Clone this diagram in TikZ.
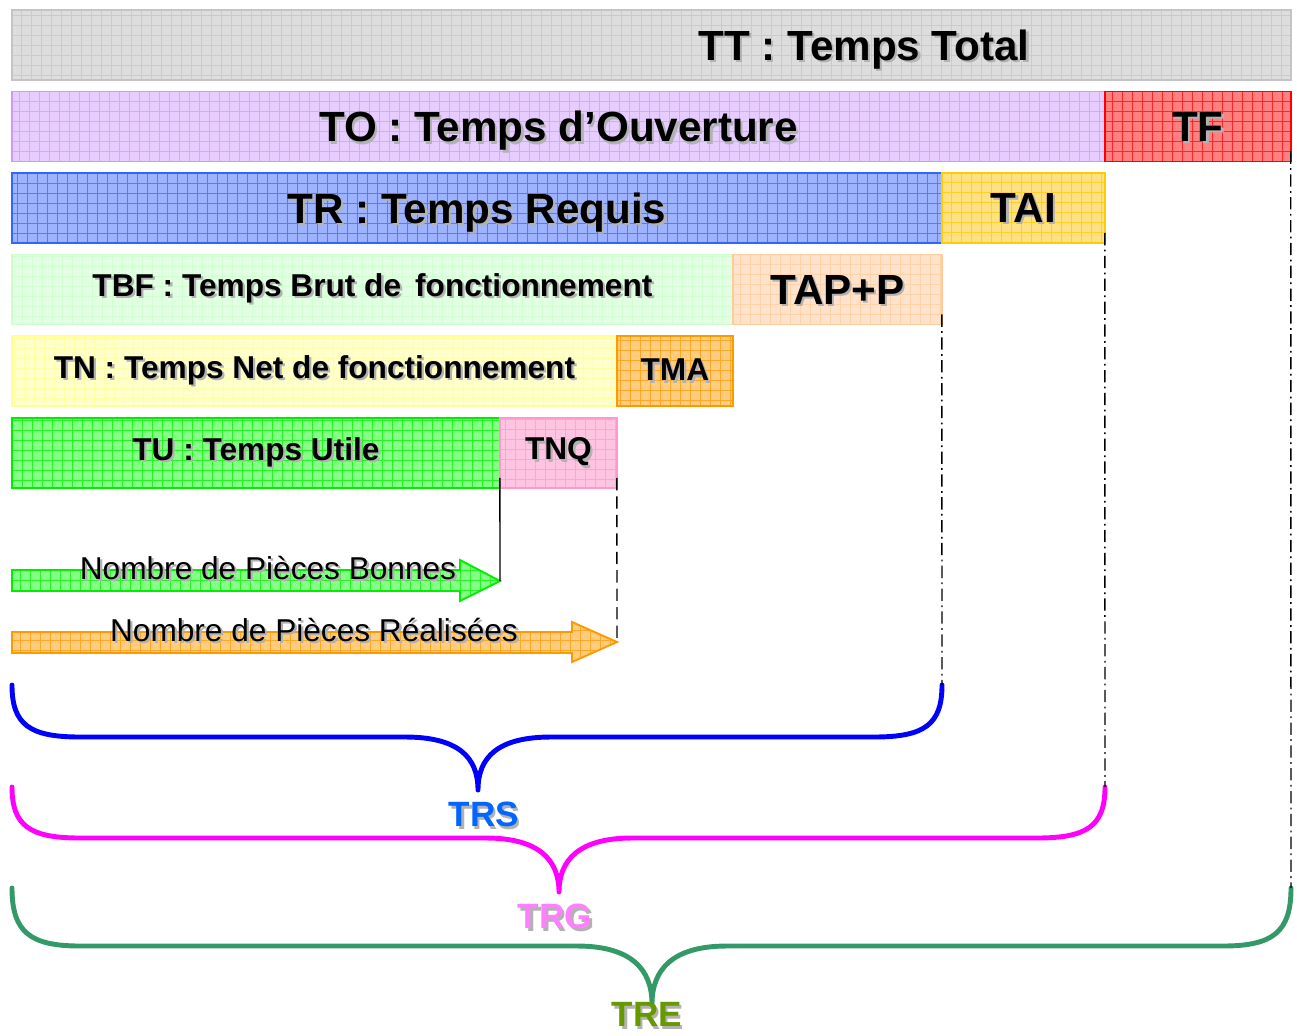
\documentclass[tikz,border=0pt]{standalone}
\usepackage{fontspec}
\setmainfont{Liberation Sans}
\usepackage{xcolor}
\usepackage{tikz}
\usetikzlibrary{positioning}

% couleurs des barres (remplissage / trait)
\definecolor{grisF}{HTML}{DDDDDD}
\definecolor{grisB}{HTML}{C4C4C4}
\definecolor{violetF}{HTML}{E6CCFF}
\definecolor{violetB}{HTML}{CC99FF}
\definecolor{rougeF}{HTML}{FF8080}
\definecolor{rougeB}{HTML}{FF0000}
\definecolor{bleuF}{HTML}{9DB3FF}
\definecolor{bleuB}{HTML}{3366FF}
\definecolor{jauneF}{HTML}{FFE083}
\definecolor{jauneB}{HTML}{FFCC00}
\definecolor{vertclF}{HTML}{E3FFE3}
\definecolor{vertclB}{HTML}{CCFFCC}
\definecolor{saumonF}{HTML}{FFE2CC}
\definecolor{saumonB}{HTML}{FFCC99}
\definecolor{jaunclF}{HTML}{FFFFCC}
\definecolor{jaunclB}{HTML}{FFFF99}
\definecolor{orangeF}{HTML}{FFCC80}
\definecolor{orangeB}{HTML}{FF9900}
\definecolor{vertF}{HTML}{85FF85}
\definecolor{vertB}{HTML}{00EE00}
\definecolor{roseF}{HTML}{FFC4E1}
\definecolor{roseB}{HTML}{FF99CC}
\definecolor{accBleu}{HTML}{0000FF}
\definecolor{accMag}{HTML}{FF00FF}
\definecolor{accVert}{HTML}{339966}
\definecolor{txtTRS}{HTML}{0066FF}
\definecolor{txtTRG}{HTML}{FF80FF}
\definecolor{txtTRE}{HTML}{669900}

% texte avec ombre
\newcommand{\ombre}[1]{\rlap{\textcolor{gray!60}{\kern1.3pt\raisebox{-1.3pt}{#1}}}#1}

\tikzset{
    motif/.style 2 args={fill=#1, draw=#2, line width=1.1pt,
        path picture={\draw[#2, line width=0.35pt, opacity=0.7, step=0.2cm]
            (path picture bounding box.south west) grid (path picture bounding box.north east);}},
    barre/.style 2 args={motif={#1}{#2}, inner sep=0pt, outer sep=0pt, minimum height=1.4cm},
    gros/.style={font=\fontsize{24}{28}\selectfont\bfseries, text depth=0pt},
    moyen/.style={font=\fontsize{18}{21}\selectfont\bfseries},
    texte/.style={font=\fontsize{18}{21}\selectfont},
    repere/.style={line width=0.8pt, draw=black},
    tiretpt/.style={repere, dash pattern=on 7pt off 2.5pt on 1pt off 2.5pt},
    accolade/.style={line width=2.8pt, line cap=round, line join=round},
    total/.style={font=\fontsize{20}{24}\selectfont\bfseries}
}

\begin{document}
\begin{tikzpicture}[x=0.02cm, y=-0.02cm]
    \useasboundingbox (0,0) rectangle (1297,1035);

    % Les barres de temps
    \node[barre={grisF}{grisB}, minimum width=25.58cm, anchor=north west] (tt) at (12,10) {};
    \node[gros] (tttxt) at (864,45) {\ombre{TT : Temps Total}};

    \node[barre={violetF}{violetB}, minimum width=21.86cm, anchor=north west, gros] (to) at (12,91.5) {\ombre{TO : Temps d’Ouverture}};
    \node[barre={rougeF}{rougeB}, minimum width=3.72cm, right=0pt of to, gros] (tf) {\ombre{TF}};

    \node[barre={bleuF}{bleuB}, minimum width=18.6cm, anchor=north west, gros] (tr) at (12,173) {\ombre{TR : Temps Requis}};
    \node[barre={jauneF}{jauneB}, minimum width=3.26cm, right=0pt of tr, gros] (tai) {\ombre{TAI}};

    \node[barre={vertclF}{vertclB}, minimum width=14.42cm, anchor=north west, moyen] (tbf) at (12,254.5) {\ombre{TBF : Temps Brut de\, fonctionnement}};
    \node[barre={saumonF}{saumonB}, minimum width=4.18cm, right=0pt of tbf, gros] (tap) {\ombre{TAP+P}};

    \node[barre={jaunclF}{jaunclB}, minimum width=12.1cm, anchor=north west, moyen] (tn) at (12,336) {\ombre{TN : Temps Net de fonctionnement}};
    \node[barre={orangeF}{orangeB}, minimum width=2.32cm, right=0pt of tn, moyen] (tma) {\ombre{TMA}};

    \node[barre={vertF}{vertB}, minimum width=9.76cm, anchor=north west, moyen] (tu) at (12,418) {\ombre{TU : Temps Utile}};
    \node[barre={roseF}{roseB}, minimum width=2.34cm, right=0pt of tu, moyen] (tnq) {\ombre{TNQ}};

    % Les flèches de pièces
    \draw[motif={vertF}{vertB}] (12,570) -- (460,570) -- (460,560) -- (500,581) coordinate (pb)
        -- (460,601) -- (460,591) -- (12,591) -- cycle;
    \draw[motif={orangeF}{orangeB}] (12,632) -- (572,632) -- (572,622) -- (617,642) coordinate (pr)
        -- (572,662) -- (572,653) -- (12,653) -- cycle;
    \node[texte] (nbb) at (268,569) {\ombre{Nombre de Pièces Bonnes}};
    \node[texte] (nbr) at (314,631) {\ombre{Nombre de Pièces Réalisées}};

    % Les accolades
    \draw[accolade, accBleu] (12,685) coordinate (trsg) .. controls (12,725) and (30,737) .. (80,737)
        -- (405,737) .. controls (458,737) and (478,757) .. (478,790) coordinate (trsp)
        .. controls (478,757) and (498,737) .. (551,737) -- (874,737)
        .. controls (924,737) and (942,725) .. (942,685) coordinate (trsd);
    \draw[accolade, accMag] (12,787) coordinate (trgg) .. controls (12,826) and (30,838) .. (80,838)
        -- (486,838) .. controls (539,838) and (559,860) .. (559,892) coordinate (trgp)
        .. controls (559,860) and (579,838) .. (632,838) -- (1037,838)
        .. controls (1087,838) and (1105,826) .. (1105,787) coordinate (trgd);
    \draw[accolade, accVert] (12,888) coordinate (treg) .. controls (12,932) and (30,946) .. (80,946)
        -- (577,946) .. controls (632,946) and (652,970) .. (652,1004) coordinate (trep)
        .. controls (652,970) and (672,946) .. (727,946) -- (1223,946)
        .. controls (1273,946) and (1291,932) .. (1291,888) coordinate (tred);

    \node[total, txtTRS] (trs) at (484,816) {\ombre{TRS}};
    \node[total, txtTRG] (trg) at (555,918) {\ombre{TRG}};
    \node[total, txtTRE] (tre) at (647,1016) {\ombre{TRE}};

    % Les repères verticaux
    \draw[repere] ([yshift=0.2cm]tu.south east) -- (pb);
    \draw[repere, dash pattern=on 7pt off 3.5pt] ([yshift=0.2cm]tnq.south east) -- (pr);
    \draw[tiretpt] ([yshift=0.2cm]tap.south east) -- (trsd);
    \draw[tiretpt] ([yshift=0.2cm]tai.south east) -- (trgd);
    \draw[tiretpt] ([yshift=0.2cm]tf.south east) -- (tred);
\end{tikzpicture}
\end{document}
